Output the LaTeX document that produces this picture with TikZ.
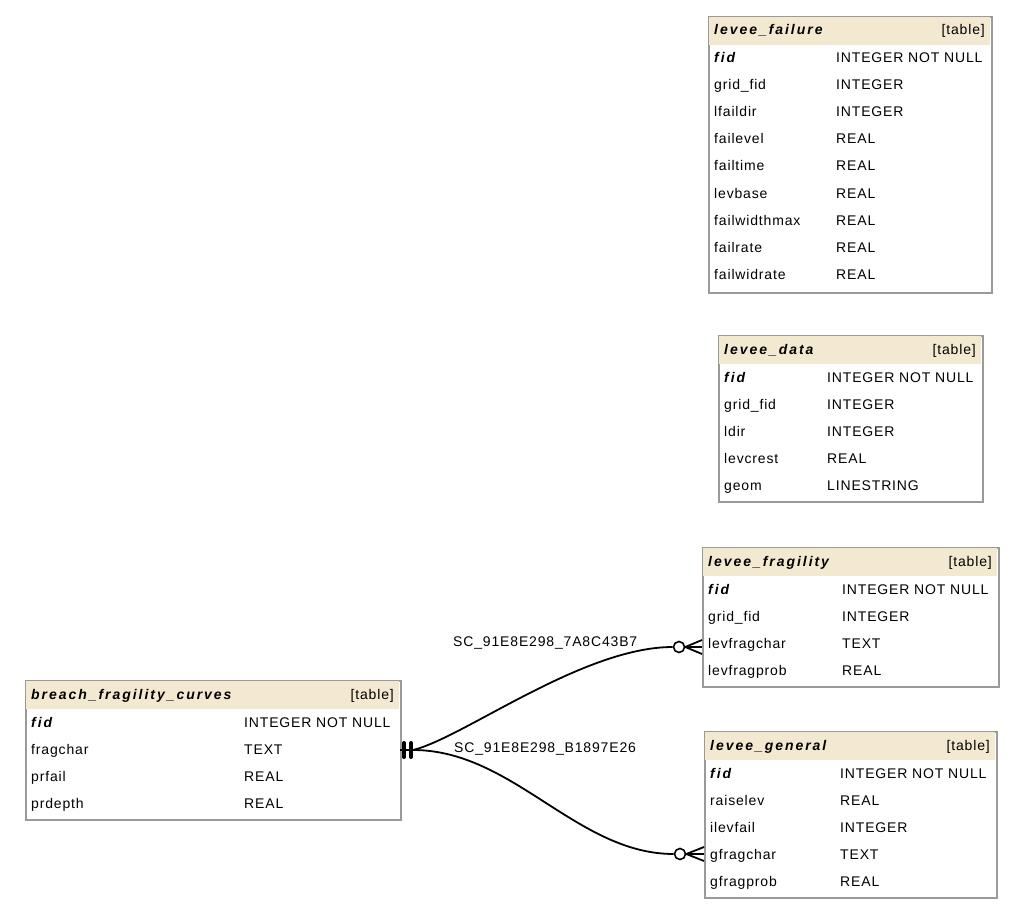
\documentclass[tikz,border=0pt]{standalone}
\usepackage{fontspec}
\setmainfont{Liberation Sans}[LetterSpace=6]
\newfontfamily\titlefont{Liberation Sans}[LetterSpace=14]
\usetikzlibrary{calc}
\definecolor{hdrfill}{HTML}{F3E9D1}
\definecolor{framegray}{HTML}{9A9A9A}

\tikzset{
  tablebox/.style={draw=framegray, line width=1.6pt, rectangle, inner sep=0pt, anchor=north west},
  cell/.style={inner sep=0pt, anchor=base west, font=\fontsize{14}{16}\selectfont},
  titlecell/.style={cell, font=\fontsize{14}{16}\selectfont\titlefont\bfseries\itshape},
  tagcell/.style={cell, anchor=base east},
  rel/.style={draw=black, line width=1.8pt},
  optcircle/.style={circle, draw=black, fill=white, line width=1.6pt, minimum size=11pt, inner sep=0pt},
  barmark/.style={line width=4pt, line cap=round},
}

% id, left, top, right, bottom, type column x, title, further rows (name/type)
\newcommand\erdtable[8]{%
  \node[tablebox, minimum width={#4-#2}, minimum height={#5-#3}] (#1) at (#2,#3) {};
  \fill[hdrfill] (#2+1,#3+1) rectangle (#4-1,#3+29);
  \node[titlecell] (#1-title) at (#2+6,#3+19) {#7};
  \node[tagcell] (#1-tag) at (#4-6,#3+19) {[table]};
  \node[titlecell] (#1-k) at (#2+6,#3+47) {fid};
  \node[cell] (#1-kt) at (#6,#3+47) {INTEGER NOT NULL};
  \foreach \n/\t [count=\i from 1] in {#8} {
    \node[cell] (#1-n\i) at (#2+6,{#3+47+27*\i}) {\n};
    \node[cell] (#1-t\i) at (#6,{#3+47+27*\i}) {\t};
  }
}

\begin{document}
\begin{tikzpicture}[x=1pt, y=-1pt]
\useasboundingbox (0,0) rectangle (1023,915);

\erdtable{failure}{708}{16}{991}{292}{836}{levee\_failure}
  {grid\_fid/INTEGER, lfaildir/INTEGER, failevel/REAL, failtime/REAL,
   levbase/REAL, failwidthmax/REAL, failrate/REAL, failwidrate/REAL}

\erdtable{data}{718}{335}{982}{501}{827}{levee\_data}
  {grid\_fid/INTEGER, ldir/INTEGER, levcrest/REAL, geom/LINESTRING}

\erdtable{fragility}{702}{547}{998}{686}{842}{levee\_fragility}
  {grid\_fid/INTEGER, levfragchar/TEXT, levfragprob/REAL}

\erdtable{general}{704}{731}{996}{897}{840}{levee\_general}
  {raiselev/REAL, ilevfail/INTEGER, gfragchar/TEXT, gfragprob/REAL}

\erdtable{breach}{25}{680}{400}{819}{244}{breach\_fragility\_curves}
  {fragchar/TEXT, prfail/REAL, prdepth/REAL}

% relationship end points on the table frames
\coordinate (bfc-p) at (400,750);
\coordinate (frg-p) at (702,647);
\coordinate (gen-p) at (704,854);

% optional-many ends
\node[optcircle] (o1) at (679,647) {};
\node[optcircle] (o2) at (680,854) {};

% connectors
\draw[rel] (bfc-p) -- ++(13,0) .. controls +(50,-12) and +(-90,0) .. (o1.west);
\draw[rel] (bfc-p) -- ++(13,0) .. controls +(100,0) and +(-97,0) .. (o2.west);

% one-and-only-one mark
\draw[barmark] ($(bfc-p)+(4,-7)$) -- ($(bfc-p)+(4,7)$);
\draw[barmark] ($(bfc-p)+(11,-7)$) -- ($(bfc-p)+(11,7)$);

% crow's feet
\draw[rel] (o1.east) -- (frg-p);
\draw[rel] (o1.east) -- ($(frg-p)+(0,-7)$);
\draw[rel] (o1.east) -- ($(frg-p)+(0,7)$);
\draw[rel] (o2.east) -- (gen-p);
\draw[rel] (o2.east) -- ($(gen-p)+(0,-7)$);
\draw[rel] (o2.east) -- ($(gen-p)+(0,7)$);

% relationship names
\node[cell] (lbl1) at (453,646) {SC\_91E8E298\_7A8C43B7};
\node[cell] (lbl2) at (454,752) {SC\_91E8E298\_B1897E26};
\end{tikzpicture}
\end{document}
